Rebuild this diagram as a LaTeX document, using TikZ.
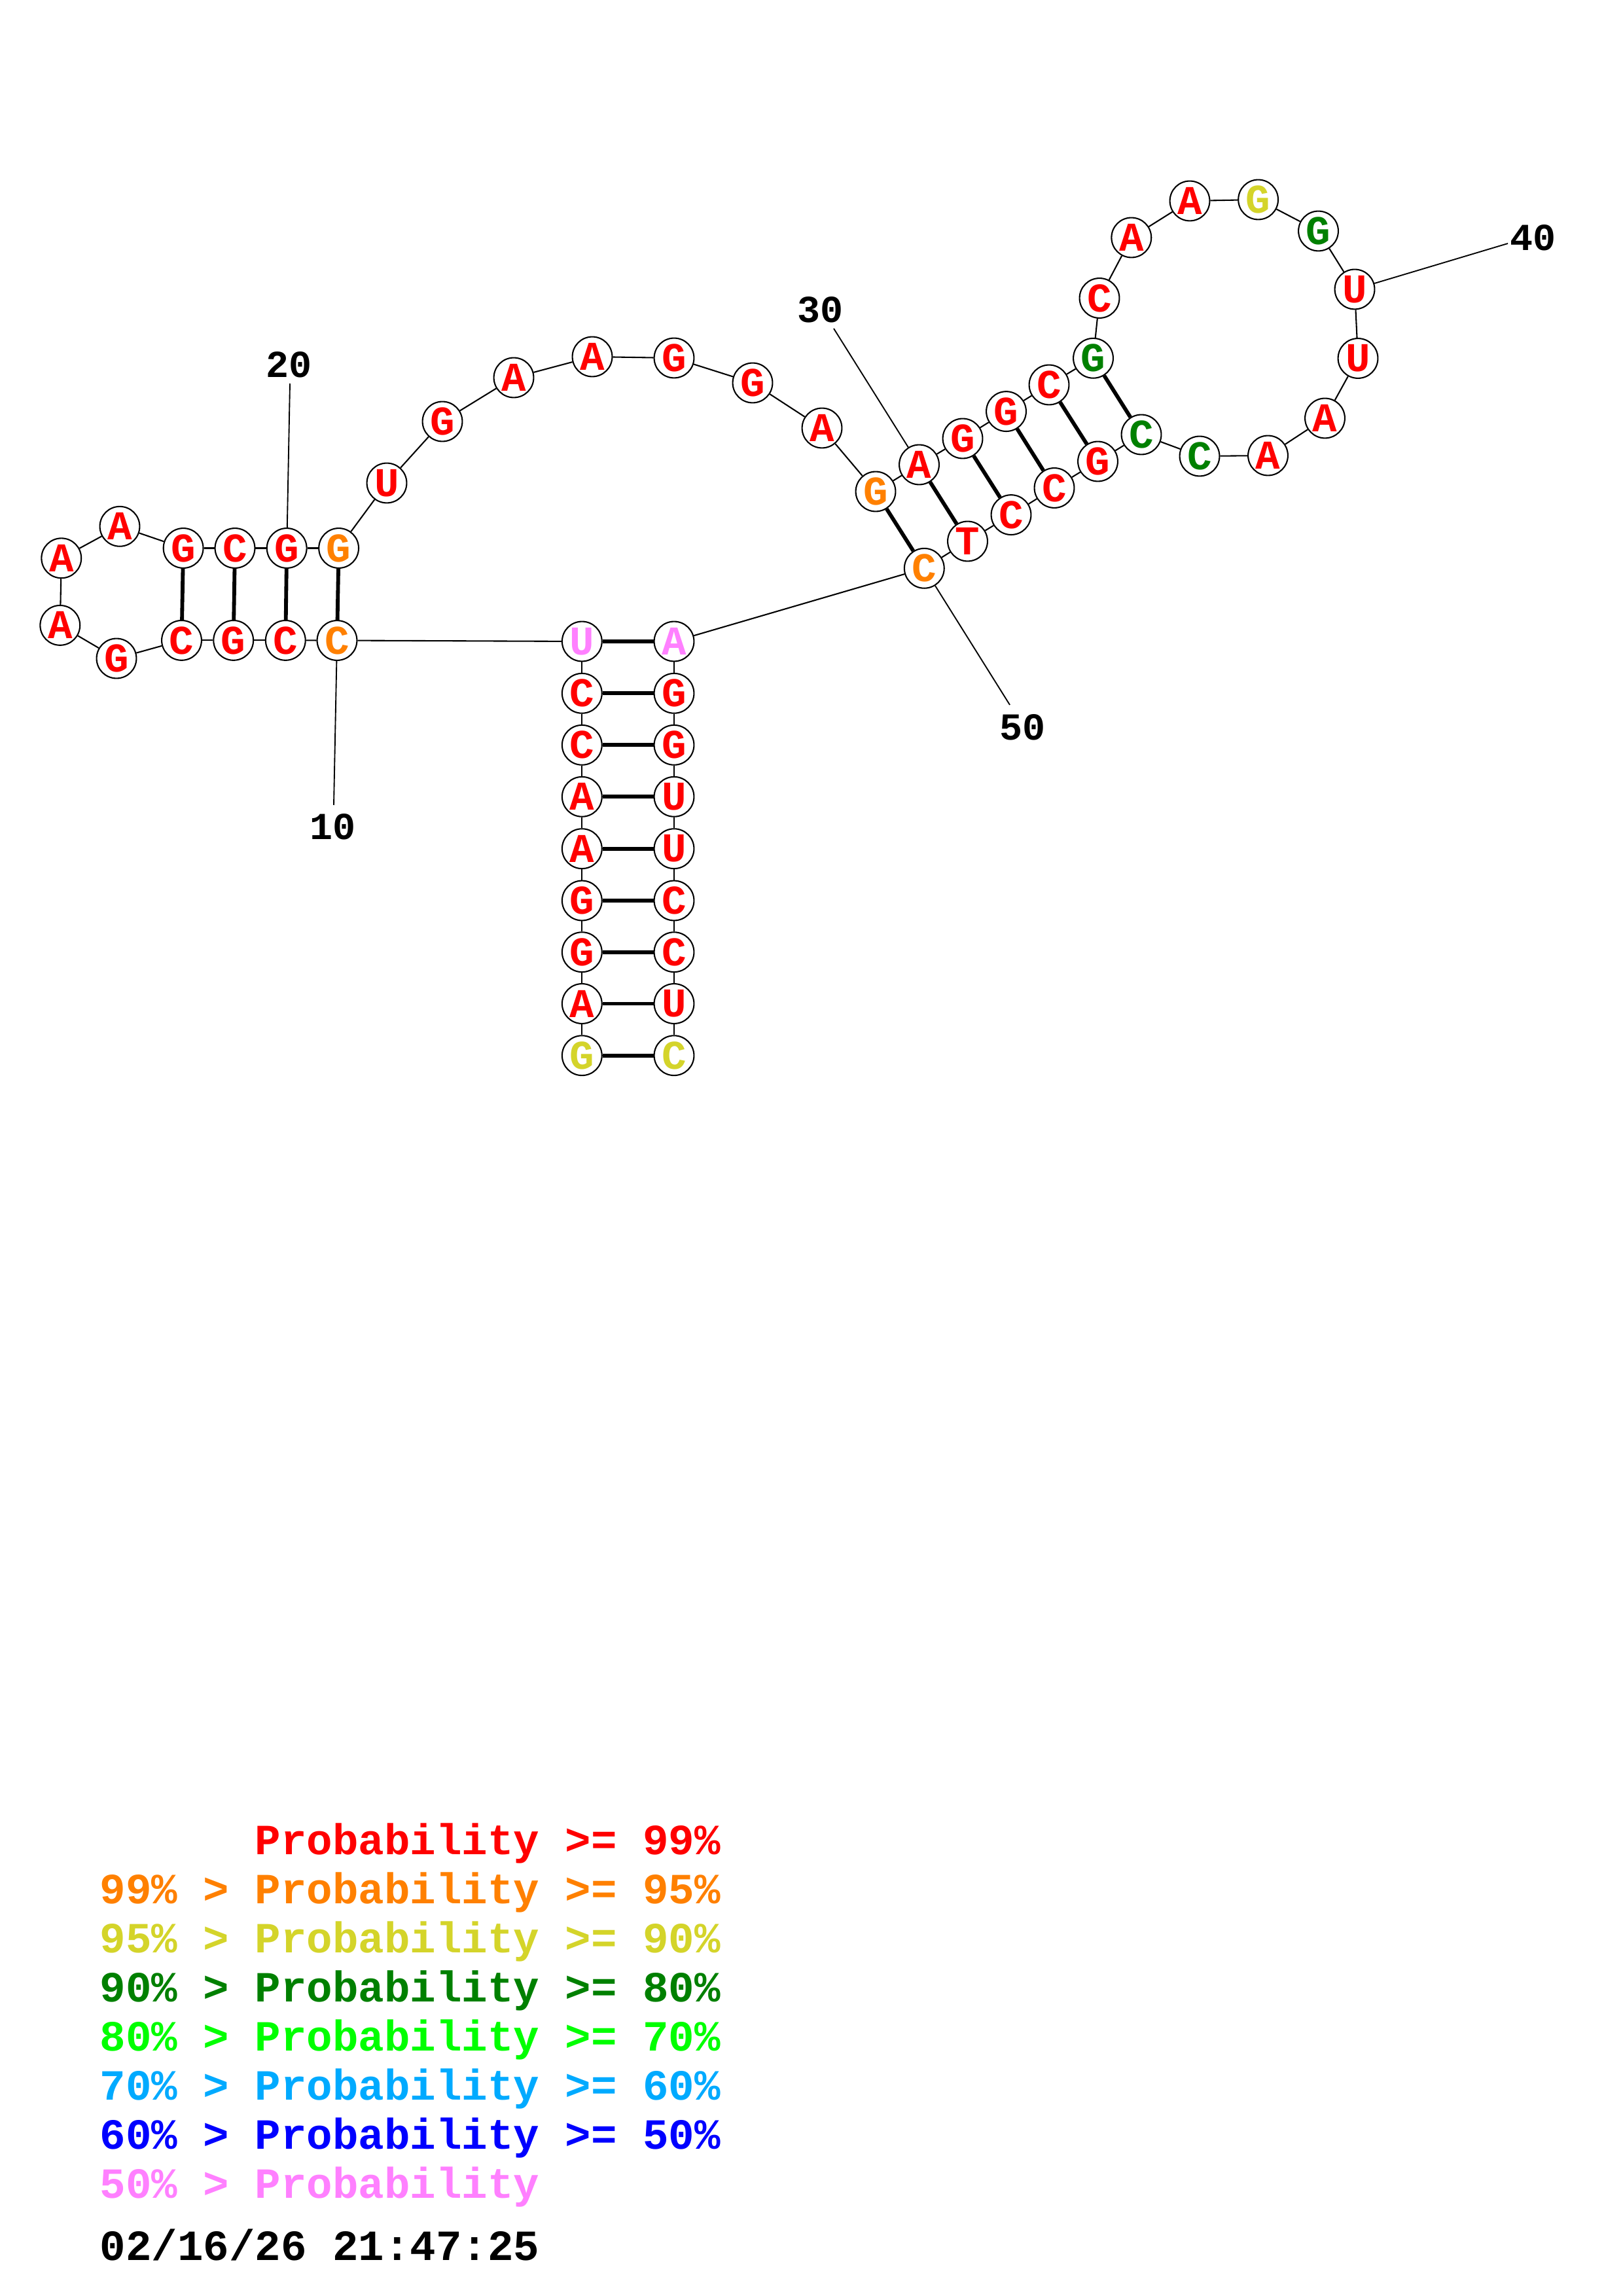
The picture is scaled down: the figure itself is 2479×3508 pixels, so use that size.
\documentclass[tikz,border=0pt]{standalone}
\usepackage{fontspec}
\setmonofont{Liberation Mono}
\newfontfamily\nucfont{Liberation Mono}
\definecolor{prA}{RGB}{255,0,0}
\definecolor{prB}{RGB}{255,128,0}
\definecolor{prC}{RGB}{212,212,42}
\definecolor{prD}{RGB}{0,128,0}
\definecolor{prE}{RGB}{0,255,0}
\definecolor{prF}{RGB}{0,170,255}
\definecolor{prG}{RGB}{0,0,255}
\definecolor{prH}{RGB}{255,128,255}
\tikzset{
  nt/.style={circle, draw=black, line width=0.5pt, fill=white, minimum size=14.6pt, inner sep=0pt,
    font=\nucfont\bfseries\fontsize{15}{15}\selectfont},
  bb/.style={line width=0.5pt},
  bp/.style={line width=1.4pt},
  tick/.style={line width=0.45pt},
  lbl/.style={inner sep=0pt, font=\nucfont\bfseries\fontsize{14}{14}\selectfont},
  leg/.style={inner sep=0pt, anchor=base west, font=\nucfont\bfseries\fontsize{15.8}{15.8}\selectfont}
}
\begin{document}
\begin{tikzpicture}[x=0.24pt, y=-0.24pt]
\useasboundingbox (0,0) rectangle (2479,3508);
\fill[white] (0,0) rectangle (2479,3508);
% nucleotides
\foreach \n/\x/\y/\c/\l in {
 1/889.3/1612.7/prC/G, 2/889.3/1533.5/prA/A, 3/889.3/1454.7/prA/G, 4/889.3/1376/prA/G,
 5/889.3/1296.7/prA/A, 6/889.3/1217.3/prA/A, 7/889.3/1138.3/prA/C, 8/889.3/1059.3/prA/C,
 9/889.3/980/prH/U, 10/515/978.5/prB/C, 11/436.3/978.4/prA/C, 12/356.7/978.4/prA/G,
 13/277.5/978.4/prA/C, 14/178/1006/prA/G, 15/91.8/955.4/prA/A, 16/93.8/852.8/prA/A,
 17/183/804.3/prA/A, 18/280.1/837.5/prA/G, 19/359/837.5/prA/C, 20/438.2/837.5/prA/G,
 21/517.6/837.5/prB/G, 22/591/738/prA/U, 23/676/644/prA/G, 24/785/577/prA/A,
 25/905/545/prA/A, 26/1030/547/prA/G, 27/1150/585/prA/G, 28/1256/654/prA/A,
 29/1338/751/prB/G, 30/1404.5/710/prA/A, 31/1471/670/prA/G, 32/1537.5/628.6/prA/G,
 33/1603/588/prA/C, 34/1670.5/547.3/prD/G, 35/1680/455.5/prA/C, 36/1728.8/363/prA/A,
 37/1818/307/prA/A, 38/1922.6/305/prC/G, 39/2014.5/353/prD/G, 40/2070/442/prA/U,
 41/2075/547.5/prA/U, 42/2024.5/639/prA/A, 43/1937.5/696/prA/A, 44/1833/697/prD/C,
 45/1744/664/prD/C, 46/1677.5/705/prA/G, 47/1611/745.5/prA/C, 48/1545/786.6/prA/C,
 49/1478.5/827/prA/T, 50/1412.3/868.3/prB/C, 51/1030/980/prH/A, 52/1030/1059.3/prA/G,
 53/1030/1138.3/prA/G, 54/1030/1217.3/prA/U, 55/1030/1296.7/prA/U, 56/1030/1376/prA/C,
 57/1030/1454.7/prA/C, 58/1030/1533.5/prA/U, 59/1030/1612.7/prC/C}
 { \node[nt, text=\c] (n\n) at (\x,\y) {\l}; }
% backbone
\foreach \i [evaluate=\i as \j using int(\i+1)] in {1,...,58}
 { \draw[bb] (n\i) -- (n\j); }
% base pairs
\foreach \a/\b in {1/59,2/58,3/57,4/56,5/55,6/54,7/53,8/52,9/51,
  10/21,11/20,12/19,13/18,29/50,30/49,31/48,32/47,33/46,34/45}
 { \draw[bp] (n\a) -- (n\b); }
% position labels
\coordinate (t10) at (510,1230);
\coordinate (t20) at (443,586);
\coordinate (t30) at (1274,502);
\coordinate (t40) at (2304,372);
\coordinate (t50) at (1543,1077);
\node[lbl] (l10) at (508.3,1263.3) {10};
\node[lbl] (l20) at (441,557) {20};
\node[lbl] (l30) at (1253,473) {30};
\node[lbl] (l40) at (2342,363) {40};
\node[lbl] (l50) at (1562,1111) {50};
\foreach \k in {10,20,30,40,50} { \draw[tick] (n\k) -- (t\k); }
% legend
\node[leg, text=prA] (g1) at (152,2833) {\phantom{99\% >}\ Probability >= 99\%};
\node[leg, text=prB] (g2) at (152,2908) {99\% > Probability >= 95\%};
\node[leg, text=prC] (g3) at (152,2983) {95\% > Probability >= 90\%};
\node[leg, text=prD] (g4) at (152,3058) {90\% > Probability >= 80\%};
\node[leg, text=prE] (g5) at (152,3133) {80\% > Probability >= 70\%};
\node[leg, text=prF] (g6) at (152,3208) {70\% > Probability >= 60\%};
\node[leg, text=prG] (g7) at (152,3283) {60\% > Probability >= 50\%};
\node[leg, text=prH] (g8) at (152,3358) {50\% > Probability};
\node[leg, text=black] (dt) at (152,3453) {02/16/26 21:47:25};
\end{tikzpicture}
\end{document}
